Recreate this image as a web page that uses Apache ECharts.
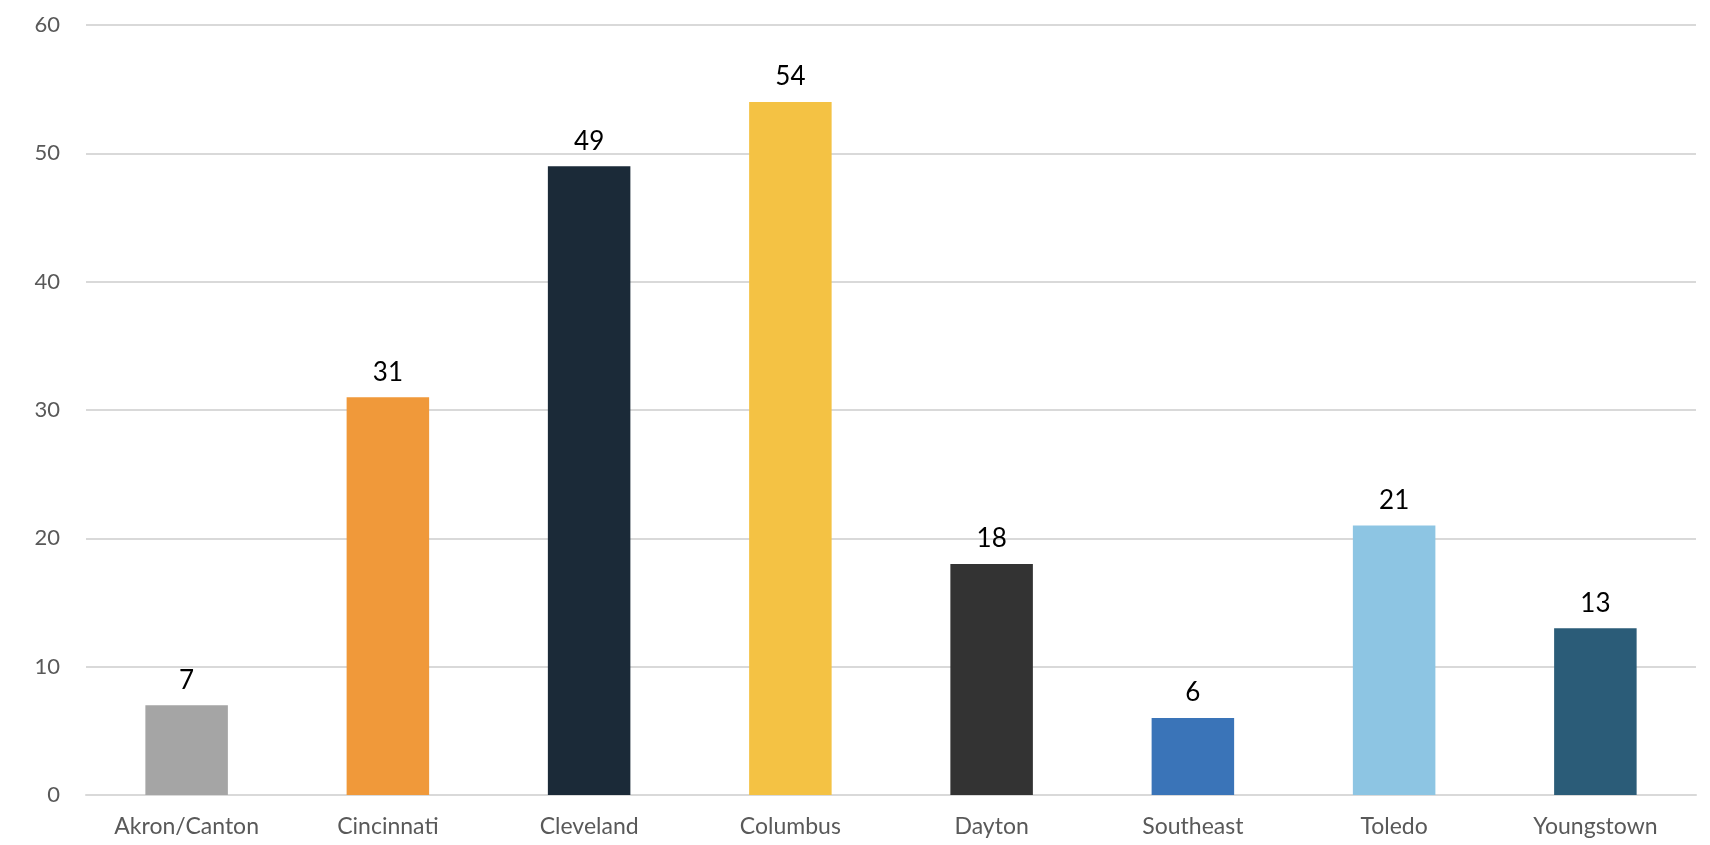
<!DOCTYPE html>
<html>
<head>
<meta charset="utf-8">
<script src="https://cdn.jsdelivr.net/npm/echarts@6/dist/echarts.min.js"></script>
<style>
  html, body { margin: 0; padding: 0; background: #fff; }
  #chart { width: 1710px; height: 845px; }
</style>
</head>
<body>
<div id="chart"></div>
<script>
const regions = ["Akron/Canton", "Cincinnati", "Cleveland", "Columbus", "Dayton", "Southeast", "Toledo", "Youngstown"];
const counts = [7, 31, 49, 54, 18, 6, 21, 13];
const barColors = ["#a5a5a5", "#f0993a", "#1b2a38", "#f4c244", "#333333", "#3a74b8", "#8dc5e3", "#2b5c78"];
const yTicks = [0, 10, 20, 30, 40, 50, 60];

const chart = echarts.init(document.getElementById("chart"));
const font = "Lato, 'Open Sans', sans-serif";

chart.setOption({
  animation: false,
  backgroundColor: "#fff",
  grid: { left: 86, right: 14, top: 25, bottom: 50 },
  xAxis: {
    type: "category",
    data: regions,
    axisLine: { lineStyle: { color: "#d9d9d9", width: 2 } },
    axisTick: { show: false },
    axisLabel: { color: "#595959", fontSize: 23, fontFamily: font, margin: 20 },
  },
  yAxis: {
    type: "value",
    min: yTicks[0],
    max: yTicks[yTicks.length - 1],
    interval: 10,
    axisLine: { show: false },
    axisTick: { show: false },
    axisLabel: { color: "#595959", fontSize: 22, fontFamily: font, margin: 26 },
    splitLine: { lineStyle: { color: "#d9d9d9", width: 2 } },
  },
  series: [
    {
      type: "bar",
      barWidth: "41%",
      data: counts.map((v, i) => ({
        value: v,
        itemStyle: { color: barColors[i] },
      })),
      label: {
        show: true,
        position: "top",
        distance: 12,
        color: "#000",
        fontSize: 26,
        fontFamily: font,
      },
    },
  ],
});
</script>
</body>
</html>
